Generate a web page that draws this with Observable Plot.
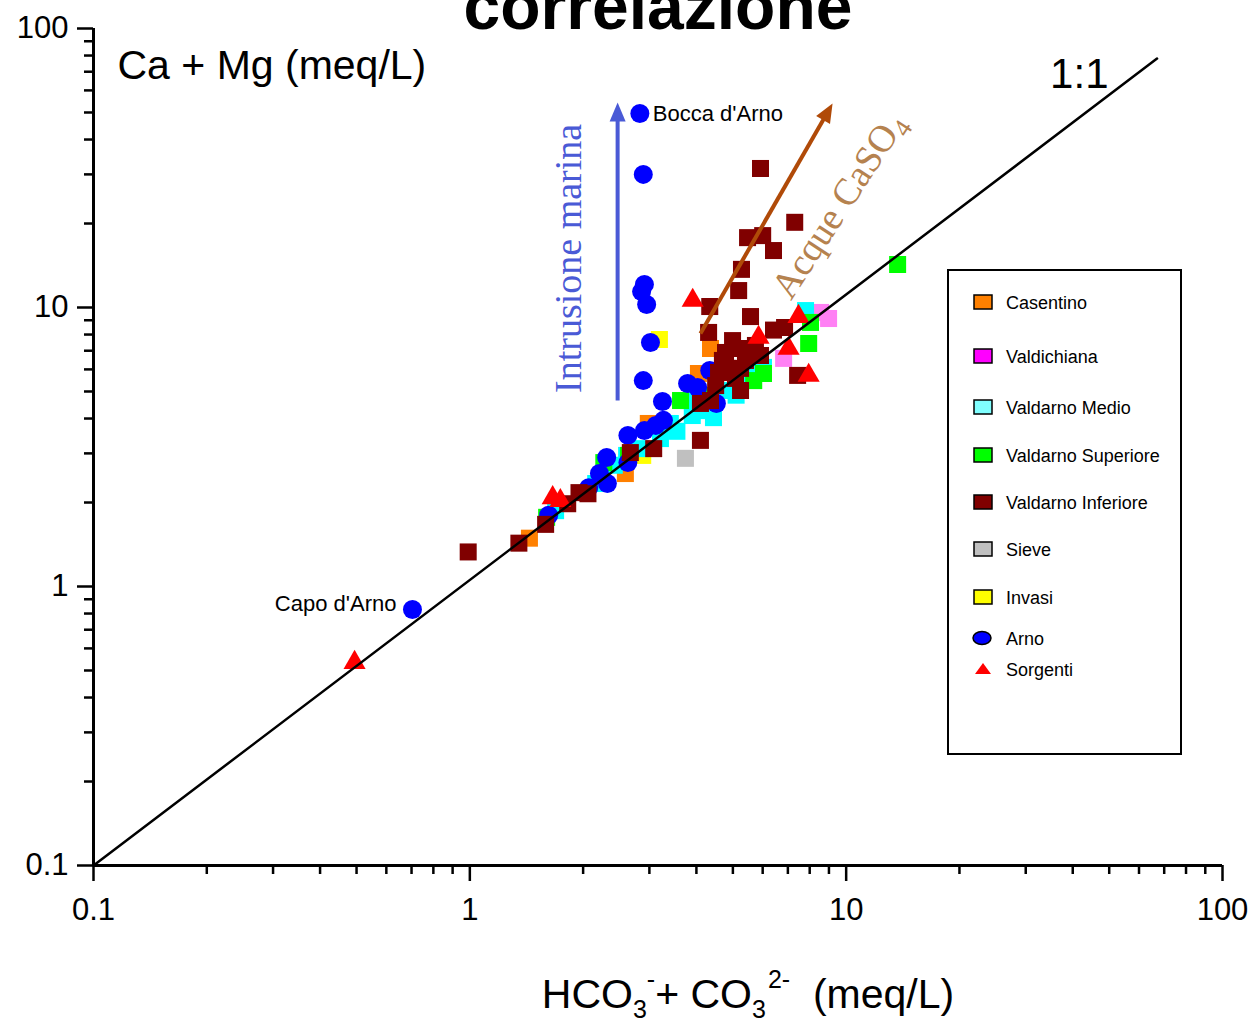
<!DOCTYPE html>
<html>
<head>
<meta charset="utf-8">
<script src="https://cdn.jsdelivr.net/npm/d3@7"></script>
<script src="https://cdn.jsdelivr.net/npm/@observablehq/plot@0.6"></script>
<style>
html, body { margin: 0; padding: 0; background: #fff; overflow: hidden; }
#chart svg { display: block; }
</style>
</head>
<body>
<div id="chart"></div>
<script>
// ---------- DATA ----------
const titleText = "correlazione";
const yLabelText = "Ca + Mg (meq/L)";
const xLabelText = "HCO3-+ CO32- (meq/L)";
const ratioLabel = "1:1";

const xMajorTicks = [0.1, 1, 10, 100];
const yMajorTicks = [0.1, 1, 10, 100];
const minorTicks = [0.2,0.3,0.4,0.5,0.6,0.7,0.8,0.9, 2,3,4,5,6,7,8,9, 20,30,40,50,60,70,80,90];

// Arno (blue circles)
const arnoX = [2.83, 2.89, 2.91, 2.86, 2.95, 3.02, 2.89, 3.25, 3.79, 4.03, 4.34, 4.52, 2.63, 2.91, 3.12, 3.27, 2.31, 2.21, 2.32, 2.07, 2.63, 1.62, 0.704];
const arnoY = [49.6, 30.0, 12.1, 11.4, 10.25, 7.49, 5.47, 4.60, 5.34, 5.17, 5.95, 4.53, 3.48, 3.62, 3.78, 3.94, 2.90, 2.54, 2.34, 2.26, 2.78, 1.80, 0.827];

// Casentino (orange squares)
const casentinoX = [4.36, 1.44, 2.98, 4.05, 2.59];
const casentinoY = [7.13, 1.49, 3.84, 5.80, 2.54];

// Valdichiana (pink squares)
const valdichianaX = [8.98, 8.55, 6.82, 5.47];
const valdichianaY = [9.13, 9.60, 6.57, 6.90];

// Valdarno Medio (cyan squares)
const medioX = [7.80, 6.03, 5.64, 5.24, 4.78, 4.44, 4.10, 3.81, 3.41, 3.21, 2.84, 2.61, 2.42, 2.16, 1.69, 3.90, 5.10, 3.55];
const medioY = [9.75, 6.10, 5.85, 5.47, 5.04, 4.03, 4.27, 4.64, 3.84, 3.39, 3.12, 2.95, 2.72, 2.34, 1.87, 4.10, 4.85, 3.60];

// Valdarno Superiore (green squares)
const superioreX = [13.7, 7.95, 8.04, 5.68, 6.03, 3.63, 4.18, 2.27, 2.64, 1.60];
const superioreY = [14.26, 7.43, 8.84, 5.47, 5.80, 4.64, 4.84, 2.78, 2.95, 1.77];

// Valdarno Inferiore (dark red squares)
const inferioreX = [5.92, 7.30, 6.41, 5.47, 6.00, 5.27, 5.18, 4.34, 5.57, 4.31, 4.99, 6.41, 6.86, 5.24, 4.69, 4.84, 4.58, 5.24, 5.92, 7.43, 5.24, 4.36, 4.10, 4.10, 3.08, 2.67, 1.95, 2.06, 1.82, 1.59, 1.35, 0.99, 4.50, 4.78, 5.40, 5.74, 5.08];
const inferioreY = [31.5, 20.2, 16.0, 17.8, 18.1, 13.7, 11.5, 10.08, 9.28, 8.14, 7.61, 8.30, 8.48, 7.13, 6.46, 6.05, 5.85, 6.05, 6.73, 5.71, 5.04, 4.64, 4.53, 3.34, 3.12, 3.02, 2.17, 2.15, 1.98, 1.67, 1.43, 1.33, 5.25, 6.90, 6.46, 7.31, 5.57];

// Sieve (grey squares)
const sieveX = [3.74];
const sieveY = [2.88];

// Invasi (yellow squares)
const invasiX = [3.19, 2.88];
const invasiY = [7.68, 2.95];

// Sorgenti (red triangles)
const sorgentiX = [0.494, 3.91, 5.85, 7.03, 7.47, 7.95, 1.66, 1.74];
const sorgentiY = [0.534, 10.6, 7.81, 7.13, 9.28, 5.71, 2.08, 2.03];

// 1:1 reference line (as drawn)
const refLineX = [0.1, 67];
const refLineY = [0.1, 78];

// annotations
const pointLabels = ["Bocca d'Arno", "Capo d'Arno"];
const pointLabelX = [2.83, 0.704];
const pointLabelY = [49.6, 0.827];

const marinaText = "Intrusione marina";
const marinaPos = {x: 1.83, y: 15.0};
const marinaArrow = {x1: 2.47, y1: 4.64, x2: 2.47, y2: 46.8};

const casoText = "Acque CaSO4";
const casoPos = {x: 9.55, y: 23.2};
const casoArrow = {x1: 4.10, y1: 8.07, x2: 8.71, y2: 47.3};

// legend
const legendNames = ["Casentino", "Valdichiana", "Valdarno Medio", "Valdarno Superiore", "Valdarno Inferiore", "Sieve", "Invasi", "Arno", "Sorgenti"];
const legendColors = ["#ff8000", "#ff00ff", "#80ffff", "#00ff00", "#800000", "#c0c0c0", "#ffff00", "#0000ff", "#ff0000"];
const legendShapes = ["square","square","square","square","square","square","square","ellipse","triangle"];

// ---------- CHART ----------
const SQ = 9.6, CI = 9.5, TR = 8.2;
const sans = "'Liberation Sans', Arial, Helvetica, sans-serif";
const serif = "'Liberation Serif', 'Times New Roman', Times, serif";
const MARINA_COLOR = "#4a5ad6";
const CASO_ARROW = "#b04a08";

function dots(xs, ys, fill, symbol, r) {
  return Plot.dot(xs, {x: xs, y: ys, fill, symbol, r, stroke: "none"});
}

const chart = Plot.plot({
  width: 1256,
  height: 1026,
  marginTop: 28,
  marginBottom: 161,
  marginLeft: 93,
  marginRight: 34,
  x: {type: "log", domain: [0.1, 100], axis: null},
  y: {type: "log", domain: [0.1, 100], axis: null},
  style: {fontFamily: sans, fontSize: "30px", background: "white", color: "black", overflow: "visible"},
  marks: [
    // axes
    Plot.axisX(minorTicks, {tickSize: 9, strokeWidth: 2.5, tickFormat: () => "", label: null}),
    Plot.axisX(xMajorTicks, {tickSize: 16, strokeWidth: 2.5, tickPadding: 16, fontSize: 31, tickFormat: d => String(d), label: null}),
    Plot.axisY(minorTicks, {tickSize: 9, strokeWidth: 2.5, tickFormat: () => "", label: null}),
    Plot.axisY(yMajorTicks, {tickSize: 16, strokeWidth: 2.5, tickPadding: 9, fontSize: 31, tickFormat: d => String(d), label: null}),
    Plot.ruleX([0.1], {strokeWidth: 3}),
    Plot.ruleY([0.1], {strokeWidth: 3}),

    // data points
    dots(invasiX, invasiY, "#ffff00", "square", SQ),
    dots(casentinoX, casentinoY, "#ff8000", "square", SQ),
    dots(valdichianaX, valdichianaY, "#ff80f4", "square", SQ),
    dots(medioX, medioY, "#00ffff", "square", SQ),
    dots(superioreX, superioreY, "#00ff00", "square", SQ),
    dots(sieveX, sieveY, "#c0c0c0", "square", SQ),
    dots(arnoX, arnoY, "#0000ff", "circle", CI),
    dots(inferioreX, inferioreY, "#800000", "square", SQ),
    dots(sorgentiX, sorgentiY, "#ff0000", "triangle", TR),

    // 1:1 line
    Plot.line(refLineX, {x: refLineX, y: refLineY, stroke: "black", strokeWidth: 2.5}),

    // arrows
    Plot.link([marinaArrow], {x1: "x1", y1: "y1", x2: "x2", y2: "y2", stroke: MARINA_COLOR, strokeWidth: 4}),
    Plot.link([casoArrow], {x1: "x1", y1: "y1", x2: "x2", y2: "y2", stroke: CASO_ARROW, strokeWidth: 4}),

    // annotations
    Plot.text([pointLabels[0]], {x: [pointLabelX[0]], y: [pointLabelY[0]], textAnchor: "start", dx: 13, dy: 0, fontSize: 22, letterSpacing: "-0.5px"}),
    Plot.text([pointLabels[1]], {x: [pointLabelX[1]], y: [pointLabelY[1]], textAnchor: "end", dx: -16, dy: -6, fontSize: 22, letterSpacing: "-0.5px"}),
    Plot.text([marinaText], {x: [marinaPos.x], y: [marinaPos.y], rotate: -90, fontSize: 38, fontFamily: serif, fill: MARINA_COLOR, textAnchor: "middle", lineAnchor: "middle"}),
    Plot.text([casoText], {x: [casoPos.x], y: [casoPos.y], rotate: -57, fontSize: 38, fontFamily: serif, fill: "#b5824f", textAnchor: "middle", lineAnchor: "middle"}),

    // titles / labels
    Plot.text([titleText], {frameAnchor: "top", lineAnchor: "bottom", dy: 0, fontSize: 66, fontWeight: "bold"}),
    Plot.text([yLabelText], {frameAnchor: "top-left", textAnchor: "start", lineAnchor: "bottom", dx: 24, dy: 50, fontSize: 41}),
    Plot.text([ratioLabel], {frameAnchor: "top-right", textAnchor: "end", lineAnchor: "bottom", dx: -114, dy: 59, fontSize: 42}),
    Plot.text([xLabelText], {frameAnchor: "bottom", textAnchor: "middle", lineAnchor: "bottom", dx: 90, dy: 142, fontSize: 41})
  ]
});

document.getElementById("chart").appendChild(chart);

// ---------- post-processing: sub/superscripts, arrow heads, legend ----------
const svg = d3.select(chart);
function findText(str) {
  return svg.selectAll("text").filter(function () { return this.textContent === str; });
}

// x label with sub/superscripts
(function () {
  const t = findText(xLabelText);
  t.text(null).style("white-space", "pre");
  t.append("tspan").text("HCO");
  t.append("tspan").attr("font-size", 25).attr("dy", 10).text("3");
  t.append("tspan").attr("font-size", 25).attr("dy", -30).text("-");
  t.append("tspan").attr("dy", 20).text("+ CO");
  t.append("tspan").attr("font-size", 25).attr("dy", 10).text("3");
  t.append("tspan").attr("font-size", 25).attr("dy", -30).attr("dx", 2).text("2-");
  t.append("tspan").attr("dy", 20).text("  (meq/L)");
})();

// CaSO4 subscript
(function () {
  const t = findText(casoText);
  t.text(null);
  t.append("tspan").text("Acque CaSO");
  t.append("tspan").attr("font-size", 26).attr("dy", 8).text("4");
})();

// arrow heads (filled triangles at the end of each link)
(function () {
  const defs = svg.insert("defs", ":first-child");
  function head(id, color) {
    defs.append("marker")
      .attr("id", id)
      .attr("viewBox", "-2 -9 22 18")
      .attr("refX", 0).attr("refY", 0)
      .attr("markerWidth", 22).attr("markerHeight", 18)
      .attr("markerUnits", "userSpaceOnUse")
      .attr("orient", "auto")
      .append("path").attr("d", "M-1,-8L18,0L-1,8Z").attr("fill", color);
  }
  head("head-marina", MARINA_COLOR);
  head("head-caso", CASO_ARROW);
  svg.selectAll("g").filter(function () { return this.getAttribute("stroke") === MARINA_COLOR; })
    .selectAll("path").attr("marker-end", "url(#head-marina)");
  svg.selectAll("g").filter(function () { return this.getAttribute("stroke") === CASO_ARROW; })
    .selectAll("path").attr("marker-end", "url(#head-caso)");
})();

// legend
(function () {
  const rowY = [302, 356, 407, 455, 502, 549, 597, 638, 669];
  const lg = svg.append("g").attr("font-family", sans).attr("font-size", 18).attr("text-anchor", "start");
  lg.append("rect").attr("x", 948).attr("y", 270).attr("width", 233).attr("height", 484)
    .attr("fill", "white").attr("stroke", "black").attr("stroke-width", 2);
  legendNames.forEach((name, i) => {
    const cy = rowY[i];
    const cx = 983;
    const shape = legendShapes[i];
    if (shape === "square") {
      lg.append("rect").attr("x", cx - 9).attr("y", cy - 7).attr("width", 18).attr("height", 14)
        .attr("fill", legendColors[i]).attr("stroke", "black").attr("stroke-width", 1.5);
    } else if (shape === "ellipse") {
      lg.append("ellipse").attr("cx", cx - 1).attr("cy", cy).attr("rx", 9).attr("ry", 6.5)
        .attr("fill", legendColors[i]).attr("stroke", "black").attr("stroke-width", 1.5);
    } else {
      lg.append("path").attr("d", `M${cx - 8},${cy + 5}L${cx},${cy - 6}L${cx + 8},${cy + 5}Z`)
        .attr("fill", legendColors[i]).attr("stroke", "none");
    }
    lg.append("text").attr("x", 1006).attr("y", cy + 7).attr("fill", "black").attr("text-anchor", "start").text(name);
  });
})();
</script>
</body>
</html>
